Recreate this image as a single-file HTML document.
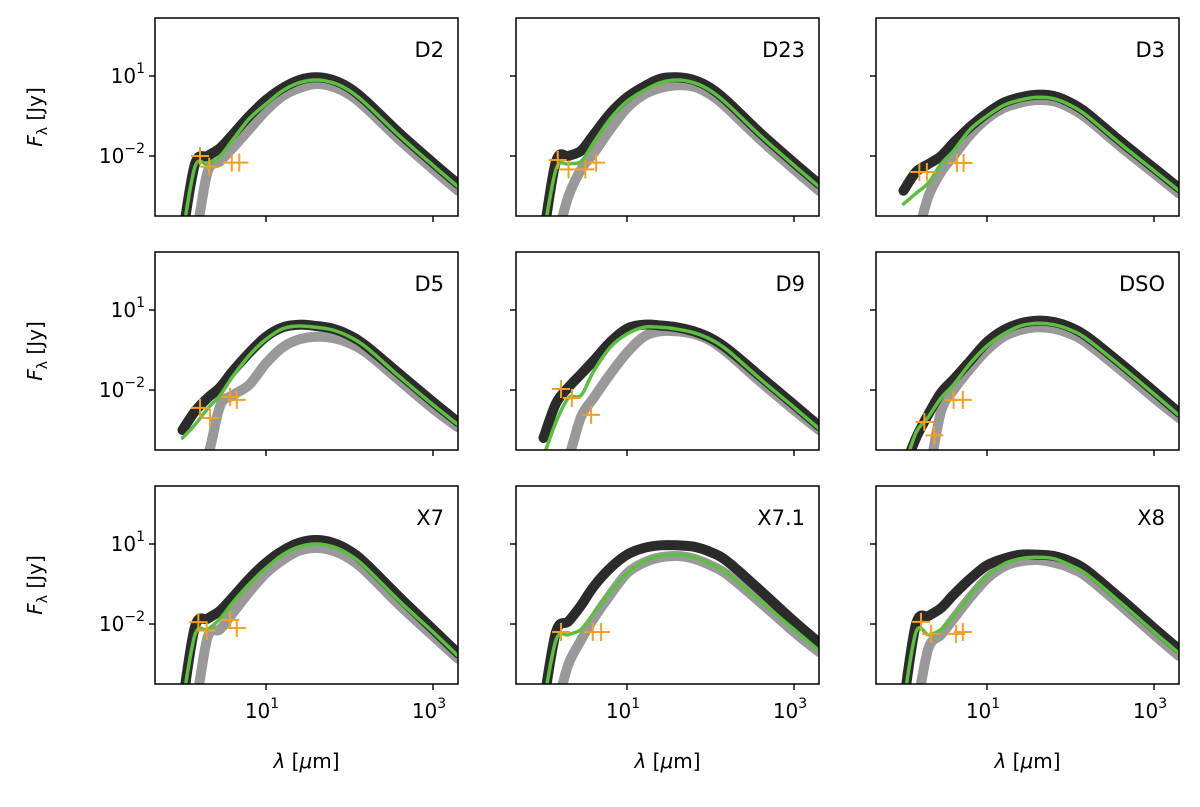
<!DOCTYPE html>
<html><head><meta charset="utf-8"><style>
body{margin:0;background:#fff;}
svg text{font-family:"DejaVu Sans","Liberation Sans",sans-serif;fill:#000;}
</style></head><body>
<svg id="fig" width="1200" height="802" viewBox="0 0 1200 802" xmlns="http://www.w3.org/2000/svg"></svg>
<script>
const lamLog = [0.0,0.15,0.3,0.45,0.6,0.8,1.0,1.2,1.4,1.6,1.8,2.0,2.2,2.6,3.0,3.3];
const panelNames = ["D2","D23","D3","D5","D9","DSO","X7","X7.1","X8"];
const blackD2=[-5,-2.3,-2.0,-1.7,-1.2,-0.5,0.1,0.55,0.85,0.95,0.85,0.55,0.05,-1.15,-2.25,-3.05];
const grayD2=[-5,-5,-2.6,-2.2,-1.7,-1.0,-0.3,0.25,0.55,0.7,0.6,0.3,-0.2,-1.4,-2.5,-3.3];
const greenD2=[-5,-2.4,-2.3,-2.0,-1.4,-0.6,-0.05,0.45,0.75,0.85,0.75,0.45,-0.05,-1.25,-2.35,-3.15];
const blackD23=[-5,-2.2,-2.0,-1.8,-1.2,-0.4,0.2,0.6,0.9,0.95,0.85,0.55,0.05,-1.15,-2.25,-3.05];
const grayD23=[-5,-5,-3.5,-2.5,-1.9,-1.0,-0.2,0.3,0.55,0.65,0.6,0.3,-0.2,-1.4,-2.5,-3.3];
const greenD23=[-5,-2.5,-2.3,-2.2,-1.5,-0.6,0.05,0.45,0.75,0.85,0.75,0.45,-0.05,-1.25,-2.35,-3.15];
const blackD3=[-3.3,-2.6,-2.3,-2.0,-1.5,-0.9,-0.4,0.0,0.2,0.3,0.25,0.0,-0.4,-1.45,-2.45,-3.2];
const grayD3=[-5,-5,-3.5,-2.6,-2.0,-1.2,-0.6,-0.2,0.0,0.1,0.05,-0.2,-0.6,-1.65,-2.65,-3.4];
const greenD3=[-3.8,-3.4,-3.0,-2.3,-1.8,-1.0,-0.5,-0.1,0.1,0.2,0.15,-0.1,-0.5,-1.55,-2.55,-3.3];
const blackD5=[-3.5,-2.8,-2.3,-1.9,-1.3,-0.6,0.0,0.35,0.45,0.4,0.3,0.05,-0.35,-1.4,-2.45,-3.2];
const grayD5=[-5,-5,-4.5,-2.6,-2.2,-1.8,-1.0,-0.4,-0.1,0.0,-0.05,-0.25,-0.6,-1.65,-2.7,-3.4];
const greenD5=[-3.8,-3.3,-2.7,-2.2,-1.5,-0.7,-0.1,0.3,0.4,0.35,0.25,0.0,-0.4,-1.5,-2.55,-3.3];
const blackD9=[-3.8,-2.5,-1.9,-1.4,-0.9,-0.2,0.3,0.45,0.42,0.35,0.2,-0.05,-0.45,-1.5,-2.55,-3.35];
const grayD9=[-5,-5,-4.5,-3.0,-2.3,-1.4,-0.6,0.0,0.2,0.2,0.1,-0.15,-0.6,-1.7,-2.75,-3.5];
const greenD9=[-4.5,-3.2,-2.3,-2.2,-1.3,-0.4,0.1,0.35,0.35,0.28,0.15,-0.1,-0.5,-1.6,-2.65,-3.45];
const blackDSO=[-5,-3.8,-2.9,-2.1,-1.6,-0.9,-0.2,0.25,0.5,0.6,0.55,0.35,0.0,-1.0,-2.05,-2.85];
const grayDSO=[-5,-5,-5,-2.8,-2.0,-1.2,-0.5,0.0,0.25,0.35,0.3,0.1,-0.25,-1.25,-2.3,-3.05];
const greenDSO=[-5,-3.6,-3.0,-2.3,-1.8,-1.0,-0.35,0.1,0.4,0.5,0.45,0.25,-0.1,-1.1,-2.15,-2.95];
const blackX7=[-5,-2.1,-1.8,-1.5,-1.0,-0.3,0.3,0.75,1.05,1.15,1.05,0.75,0.25,-1.0,-2.2,-3.1];
const grayX7=[-5,-5,-2.5,-2.2,-1.6,-0.8,-0.1,0.4,0.75,0.85,0.75,0.45,-0.05,-1.3,-2.45,-3.3];
const greenX7=[-5,-2.4,-2.2,-1.8,-1.2,-0.5,0.1,0.6,0.9,1.0,0.9,0.6,0.1,-1.15,-2.3,-3.2];
const blackX71=[-5,-2.3,-1.9,-1.3,-0.6,0.1,0.6,0.85,0.95,0.95,0.9,0.7,0.35,-0.75,-1.9,-2.7];
const grayX71=[-5,-5,-3.5,-2.6,-1.8,-0.9,-0.1,0.3,0.5,0.55,0.45,0.2,-0.15,-1.2,-2.3,-3.05];
const greenX71=[-5,-2.6,-2.4,-2.2,-1.6,-0.8,-0.1,0.35,0.55,0.6,0.5,0.25,-0.1,-1.15,-2.2,-3.0];
const blackX8=[-5,-2.0,-1.7,-1.4,-0.9,-0.3,0.2,0.45,0.6,0.6,0.55,0.35,0.0,-1.05,-2.15,-2.95];
const grayX8=[-5,-5,-2.9,-2.4,-1.8,-1.0,-0.3,0.15,0.35,0.4,0.3,0.1,-0.25,-1.3,-2.4,-3.2];
const greenX8=[-5,-2.3,-2.4,-2.2,-1.7,-0.9,-0.2,0.25,0.45,0.5,0.45,0.2,-0.15,-1.2,-2.3,-3.1];
const markLamD2=[0.21,0.32,0.59,0.68], markFD2=[-2.0,-2.4,-2.25,-2.25];
const markLamD23=[0.17,0.3,0.5,0.63], markFD23=[-2.15,-2.5,-2.5,-2.25];
const markLamD3=[0.19,0.28,0.64,0.72], markFD3=[-2.6,-2.6,-2.26,-2.26];
const markLamD5=[0.21,0.33,0.57,0.65], markFD5=[-2.67,-3.05,-2.26,-2.37];
const markLamD9=[0.21,0.34,0.57], markFD9=[-1.96,-2.3,-2.93];
const markLamDSO=[0.25,0.37,0.6,0.71], markFDSO=[-3.2,-3.7,-2.37,-2.37];
const markLamX7=[0.19,0.29,0.57,0.65], markFX7=[-1.93,-2.25,-1.85,-2.15];
const markLamX71=[0.21,0.59,0.69], markFX71=[-2.3,-2.3,-2.3];
const markLamX8=[0.21,0.33,0.63,0.71], markFX8=[-1.92,-2.37,-2.37,-2.3];

const blacks=[blackD2,blackD23,blackD3,blackD5,blackD9,blackDSO,blackX7,blackX71,blackX8];
const grays=[grayD2,grayD23,grayD3,grayD5,grayD9,grayDSO,grayX7,grayX71,grayX8];
const greens=[greenD2,greenD23,greenD3,greenD5,greenD9,greenDSO,greenX7,greenX71,greenX8];
const mLams=[markLamD2,markLamD23,markLamD3,markLamD5,markLamD9,markLamDSO,markLamX7,markLamX71,markLamX8];
const mFs=[markFD2,markFD23,markFD3,markFD5,markFD9,markFDSO,markFX7,markFX71,markFX8];

const NS="http://www.w3.org/2000/svg";
const svg=document.getElementById('fig');
const colX=[155,516,876], rowY=[18,252,486], W=303, H=198;
function mk(tag,attrs,parent){const e=document.createElementNS(NS,tag);for(const k in attrs)e.setAttribute(k,attrs[k]);(parent||svg).appendChild(e);return e;}
function smooth(pts){
  let d='M'+pts[0][0].toFixed(1)+' '+pts[0][1].toFixed(1);
  for(let k=0;k<pts.length-1;k++){
    const p0=pts[k-1]||pts[k],p1=pts[k],p2=pts[k+1],p3=pts[k+2]||p2;
    const c1=[p1[0]+(p2[0]-p0[0])/6,p1[1]+(p2[1]-p0[1])/6];
    const c2=[p2[0]-(p3[0]-p1[0])/6,p2[1]-(p3[1]-p1[1])/6];
    d+=` C${c1[0].toFixed(1)} ${c1[1].toFixed(1)} ${c2[0].toFixed(1)} ${c2[1].toFixed(1)} ${p2[0].toFixed(1)} ${p2[1].toFixed(1)}`;
  }
  return d;
}

panelNames.forEach((name,i)=>{
  const c=i%3, r=Math.floor(i/3), x0=colX[c], y0=rowY[r];
  const xs=l=>x0+111+(l-1)*83.5;
  const ys=f=>y0+58-(f-1)*26.67;
  const g=mk('g',{});
  
  
  const cp=mk('clipPath',{id:'cp'+i},g);
  mk('rect',{x:x0,y:y0,width:W,height:H},cp);
  const plot=mk('g',{'clip-path':'url(#cp'+i+')'},g);
  const line=(arr,col,w,nm)=>{
    const pts=arr.map((v,k)=>[xs(lamLog[k]),ys(v)]);
    const p=mk('path',{d:smooth(pts),fill:'none',stroke:col,'stroke-width':w,'stroke-linejoin':'round','stroke-linecap':'round'},plot);
    
    
  };
  line(grays[i],'#999999',10,'model-gray-line');
  line(blacks[i],'#2b2b2b',10,'model-black-line');
  line(greens[i],'#5cbf3f',3.5,'model-green-line');
  mLams[i].forEach((l,k)=>{
    const cx=xs(l), cy=ys(mFs[i][k]);
    const m=mk('path',{d:`M${cx-9} ${cy}H${cx+9}M${cx} ${cy-9}V${cy+9}`,stroke:'#f5a020','stroke-width':2},plot);
    
    
  });
  const fr=mk('rect',{x:x0,y:y0,width:W,height:H,fill:'none',stroke:'#000','stroke-width':1.5},g);
  
  
  [1,-2].forEach(v=>mk('line',{x1:x0-6,x2:x0,y1:ys(v),y2:ys(v),stroke:'#000','stroke-width':1.4},g));
  [1,3].forEach(v=>mk('line',{x1:xs(v),x2:xs(v),y1:y0+H,y2:y0+H+6,stroke:'#000','stroke-width':1.4},g));
  const t=mk('text',{x:x0+289,y:y0+39,'text-anchor':'end','font-size':21},g);
  t.textContent=name;
  
  
  if(c===0){
    [[1,'1'],[-2,'−2']].forEach(([v,s])=>{
      const tt=mk('text',{x:x0-10,y:ys(v)+7,'text-anchor':'end','font-size':20},g);
      tt.innerHTML='10<tspan dy="-10" font-size="14">'+s+'</tspan>';
      
      
    });
    const yl=mk('text',{x:0,y:0,'text-anchor':'middle','font-size':20,transform:`translate(42 ${y0+99}) rotate(-90)`},g);
    yl.innerHTML='<tspan font-style="italic">F</tspan><tspan dy="5" font-size="14">λ</tspan><tspan dy="-5"> [Jy]</tspan>';
    
    
  }
  if(r===2){
    [1,3].forEach(v=>{
      const tt=mk('text',{x:xs(v)-4,y:y0+H+34,'text-anchor':'middle','font-size':20},g);
      tt.innerHTML='10<tspan dy="-10" font-size="14">'+v+'</tspan>';
      
      
    });
    const xl=mk('text',{x:x0+W/2,y:y0+H+84,'text-anchor':'middle','font-size':20},g);
    xl.innerHTML='<tspan font-style="italic">λ</tspan> [<tspan font-style="italic">μ</tspan>m]';
    
    
  }
});
</script>
</body></html>
